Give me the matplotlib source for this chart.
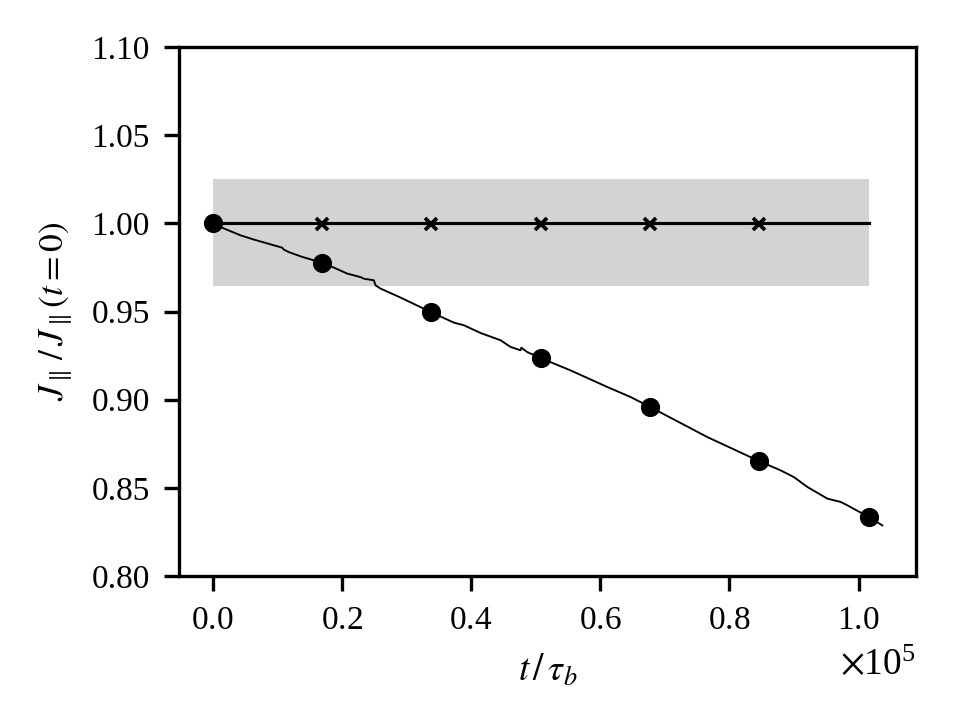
import matplotlib
matplotlib.use("Agg")
import matplotlib.pyplot as plt

plt.rcParams['font.family'] = ['Liberation Serif', 'DejaVu Serif']
plt.rcParams['mathtext.fontset'] = 'stix'
plt.rcParams['font.size'] = 8

# Continuous trace (time in units of tau_b, ratio J/J0)
trace_t = [0.0, 0.0124, 0.0433, 0.0639, 0.1002, 0.1079, 0.1104, 0.1181, 0.1362, 0.1568,
           0.1703, 0.1878, 0.2085, 0.2291, 0.2342, 0.2497, 0.2523, 0.2601, 0.2910, 0.3390,
           0.3735, 0.3890, 0.4149, 0.4458, 0.4613, 0.4768, 0.4779, 0.4871, 0.5077, 0.5542,
           0.6110, 0.6471, 0.6780, 0.7658, 0.8457, 0.8793, 0.8998, 0.9206, 0.9515, 0.9721,
           0.9825, 1.0159, 1.0367]
trace_t = [v * 1e5 for v in trace_t]
trace_j = [1.0000, 0.9979, 0.9932, 0.9908, 0.9870, 0.9862, 0.9851, 0.9837, 0.9813, 0.9790,
           0.9773, 0.9749, 0.9715, 0.9695, 0.9686, 0.9677, 0.9648, 0.9630, 0.9579, 0.9495,
           0.9437, 0.9422, 0.9378, 0.9337, 0.9299, 0.9280, 0.9295, 0.9270, 0.9236, 0.9166,
           0.9072, 0.9015, 0.8957, 0.8788, 0.8652, 0.8599, 0.8561, 0.8505, 0.8439, 0.8420,
           0.8401, 0.8334, 0.8287]

# Sampled points
sample_t = [0, 16930, 33860, 50790, 67720, 84650, 101580]
sample_j = [1.0000, 0.9773, 0.9495, 0.9236, 0.8957, 0.8652, 0.8334]

# Reference (conserved) values
cross_t = [16930, 33860, 50790, 67720, 84650]
cross_j = [0.9998, 0.9998, 0.9997, 0.9997, 0.9997]
ref_t = [0, 101580]
ref_j = [1.0, 1.0]
band_low = 0.9643
band_high = 1.025

fig = plt.figure(figsize=(3.2, 2.4), dpi=300)
ax = fig.add_axes([0.1865, 0.2, 0.7675, 0.7347])

ax.fill_between(ref_t, [band_low, band_low], [band_high, band_high],
                color='lightgray', linewidth=0, zorder=1)
ax.plot(ref_t, ref_j, color='black', lw=0.75, zorder=2)
ax.plot(cross_t, cross_j, linestyle='none', marker='x', color='black',
        markersize=3.0, markeredgewidth=0.9, zorder=3)
ax.plot(trace_t, trace_j, color='black', lw=0.45, zorder=3)
ax.plot(sample_t, sample_j, linestyle='none', marker='o', color='black',
        markersize=3.6, zorder=4)

ax.set_ylim(0.80, 1.10)
ax.set_yticks([0.80, 0.85, 0.90, 0.95, 1.00, 1.05, 1.10])
ax.yaxis.set_major_formatter(matplotlib.ticker.FormatStrFormatter('%.2f'))
ax.set_xticks([0, 20000, 40000, 60000, 80000, 100000])
ax.ticklabel_format(style='sci', axis='x', scilimits=(0, 0), useMathText=True)
ax.xaxis.get_offset_text().set_fontsize(9)

ax.set_xlabel(r'$t\,/\,\tau_b$', fontsize=9)
ax.set_ylabel(r'$J_\parallel\,/\,J_\parallel(t=0)$', fontsize=8.5)

fig.savefig('out.png', dpi=300)
